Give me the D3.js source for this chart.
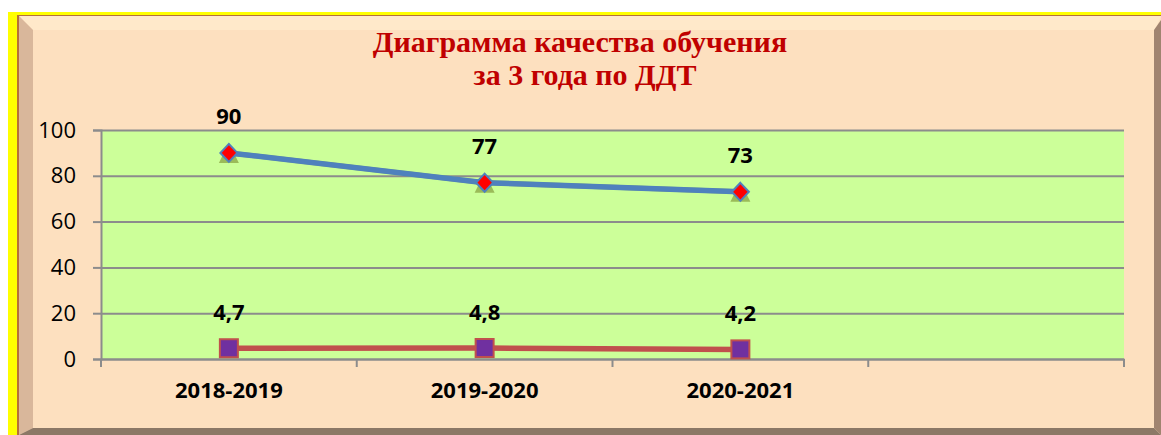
<!DOCTYPE html>
<html>
    <head>
        <meta charset="utf-8">
        <title>Диаграмма качества обучения</title>
        <script src="https://d3js.org/d3.v7.min.js"></script>
        <style>
            body { margin: 0; background: #fff; }
        </style>
    </head>
    <body>
        <script>
            const width = 1161;
            const height = 435;

            // data
            const categories = ["2018-2019", "2019-2020", "2020-2021", ""];
            const quality = [90, 77, 73];
            const qualityShadow = [90, 77, 73];
            const avgMark = [4.7, 4.8, 4.2];
            const avgMarkLabels = ["4,7", "4,8", "4,2"];
            const yTicks = [0, 20, 40, 60, 80, 100];
            const titleLines = ["Диаграмма качества обучения", "за 3 года по ДДТ"];

            const svg = d3.select("body").append("svg")
                .attr("width", width)
                .attr("height", height)
            ;

            // frame: yellow border + bevelled panel
            svg.append("rect").attr("x", 8).attr("y", 12).attr("width", width - 8).attr("height", height - 12)
                .attr("fill", "#ffff00");
            svg.append("rect").attr("x", 17).attr("y", 15).attr("width", width - 17).attr("height", height - 15)
                .attr("fill", "#b5703a");
            svg.append("rect").attr("x", 19).attr("y", 16).attr("width", width - 19).attr("height", height - 16)
                .attr("fill", "#fde0bf");
            // top light strip
            svg.append("path").attr("d", "M19,16 L1161,16 L1155,30 L33,30 Z").attr("fill", "#ffe9ca");
            // left bevel
            svg.append("path").attr("d", "M19,16 L33,30 L33,428 L19,435 Z").attr("fill", "#d9b79b");
            // right bevel
            svg.append("path").attr("d", "M1161,20 L1161,435 L1154,428 L1154,30 Z").attr("fill", "#a08470");
            // bottom bevel
            svg.append("path").attr("d", "M19,435 L33,428 L1154,428 L1161,435 Z").attr("fill", "#8c7866");

            // title
            svg.append("text")
                .attr("x", 580).attr("y", 52)
                .attr("text-anchor", "middle")
                .style("font-family", "'Liberation Serif', 'Times New Roman', serif")
                .style("font-weight", "bold")
                .style("font-size", "30px")
                .style("fill", "#c00000")
                .selectAll("tspan").data(titleLines).join("tspan")
                .attr("x", (d, i) => i === 0 ? 580 : 585)
                .attr("dy", (d, i) => i === 0 ? 0 : 33)
                .text(d => d)
            ;

            const x = d3.scaleBand().domain(categories).range([101, 1124]);
            const y = d3.scaleLinear().domain([0, 100]).range([359, 130]);
            const cx = i => x(categories[i]) + x.bandwidth() / 2;

            // plot area
            svg.append("rect")
                .attr("x", x.range()[0]).attr("y", y(100))
                .attr("width", x.range()[1] - x.range()[0])
                .attr("height", y(0) - y(100))
                .attr("fill", "#ccff99");

            const axisColor = "#8c8c8c";
            const numFont = "'Open Sans', 'Liberation Sans', sans-serif";

            // y axis with gridlines
            const gy = svg.append("g")
                .attr("transform", `translate(${x.range()[0]},0)`)
                .call(d3.axisLeft(y).tickValues(yTicks).tickSize(8).tickPadding(17))
            ;
            gy.select(".domain").attr("stroke", axisColor).attr("stroke-width", 2);
            gy.selectAll(".tick line").attr("stroke", axisColor).attr("stroke-width", 2);
            gy.selectAll(".tick text")
                .style("font-family", numFont).style("font-size", "22px").attr("fill", "#000");
            gy.selectAll(".tick").append("line")
                .attr("x2", x.range()[1] - x.range()[0])
                .attr("stroke", axisColor).attr("stroke-width", 2);

            // x axis
            const gx = svg.append("g")
                .attr("transform", `translate(0,${y(0)})`)
                .call(d3.axisBottom(x).tickSize(0).tickPadding(23))
            ;
            gx.select(".domain").attr("stroke", axisColor).attr("stroke-width", 2);
            gx.selectAll(".tick text")
                .style("font-family", numFont).style("font-size", "22px")
                .style("font-weight", "bold").attr("fill", "#000");
            gx.selectAll(".bound")
                .data(categories.map(c => x(c)).concat([x.range()[1]]))
                .join("line")
                .attr("x1", d => d).attr("x2", d => d)
                .attr("y1", 0).attr("y2", 8)
                .attr("stroke", axisColor).attr("stroke-width", 2);

            const line = d3.line().x((d, i) => cx(i)).y(d => y(d));

            // hidden green series (triangles)
            svg.append("path").datum(qualityShadow)
                .attr("d", line).attr("fill", "none")
                .attr("stroke", "#9bbb59").attr("stroke-width", 5);
            svg.selectAll(".tri").data(qualityShadow).join("path")
                .attr("d", (d, i) => `M${cx(i)},${y(d) - 10} L${cx(i) + 10},${y(d) + 10} L${cx(i) - 10},${y(d) + 10} Z`)
                .attr("fill", "#9bbb59");

            // quality series
            svg.append("path").datum(quality)
                .attr("d", line).attr("fill", "none")
                .attr("stroke", "#4f81bd").attr("stroke-width", 5.5);
            svg.selectAll(".dia").data(quality).join("path")
                .attr("d", (d, i) => `M${cx(i)},${y(d) - 9} L${cx(i) + 8.5},${y(d)} L${cx(i)},${y(d) + 9} L${cx(i) - 8.5},${y(d)} Z`)
                .attr("fill", "#ff0000").attr("stroke", "#4f81bd").attr("stroke-width", 2);

            // average mark series
            svg.append("path").datum(avgMark)
                .attr("d", line).attr("fill", "none")
                .attr("stroke", "#c0504d").attr("stroke-width", 5.5);
            svg.selectAll(".sq").data(avgMark).join("rect")
                .attr("x", (d, i) => cx(i) - 9).attr("y", d => y(d) - 9)
                .attr("width", 18).attr("height", 18)
                .attr("fill", "#7030a0").attr("stroke", "#c0504d").attr("stroke-width", 2);

            // data labels
            const labelStyle = sel => sel
                .attr("text-anchor", "middle")
                .style("font-family", numFont).style("font-size", "22px")
                .style("font-weight", "bold").attr("fill", "#000");
            svg.selectAll(".lq").data(quality).join("text")
                .attr("x", (d, i) => cx(i)).attr("y", d => y(d) - 29)
                .text(d => d).call(labelStyle);
            svg.selectAll(".lm").data(avgMark).join("text")
                .attr("x", (d, i) => cx(i)).attr("y", d => y(d) - 28)
                .text((d, i) => avgMarkLabels[i]).call(labelStyle);
        </script>
    </body>
</html>
